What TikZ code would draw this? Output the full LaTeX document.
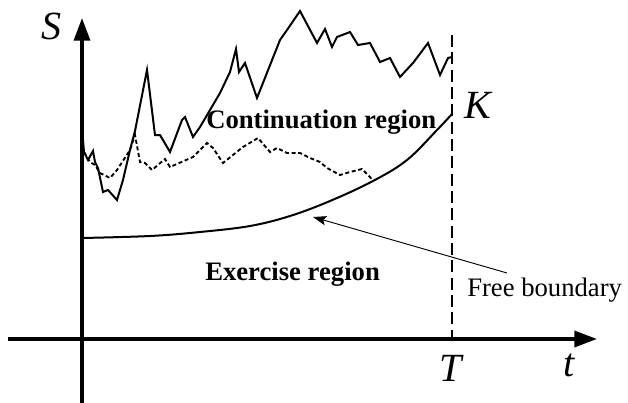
\documentclass[tikz,border=0pt]{standalone}
\usepackage{fontspec}
\setmainfont{Liberation Serif}
\usetikzlibrary{arrows.meta}

\begin{document}
\begin{tikzpicture}[x=0.75pt,y=-0.75pt,
    axis/.style={line width=2.6pt, -{Triangle[length=17pt,width=12pt]}},
    walk/.style={line width=1.5pt, line join=miter},
    shadow/.style={line width=1.4pt, dash pattern=on 3pt off 2pt},
    bound/.style={line width=1.5pt},
    region/.style={font=\fontsize{20}{24}\selectfont\bfseries, inner sep=0pt, anchor=base west},
    var/.style={font=\fontsize{30}{34}\selectfont\itshape, inner sep=0pt, anchor=base}]
  \useasboundingbox (0,0) rectangle (628,403);

  % axes
  \coordinate (ybot) at (82,403);
  \coordinate (ytop) at (82,18);
  \coordinate (xleft) at (8,339);
  \coordinate (xright) at (597,339);
  \draw[axis] (ybot) -- (ytop);
  \draw[axis] (xleft) -- (xright);
  \node[var] (lblS) at (51,40) {S};
  \node[var] (lblt) at (569,376) {t};
  \node[var] (lblT) at (451,381) {T};

  % maturity
  \coordinate (mattop) at (452,35);
  \coordinate (matbot) at (452,339);
  \draw[line width=1.1pt, dash pattern=on 9pt off 4pt] (mattop) -- (matbot);
  \node[var] (lblK) at (478,118) {K};

  % free boundary
  \draw[bound] plot[smooth, tension=0.6] coordinates {(82,238) (150,236) (200,232)
    (250,226) (290,216) (330,201) (373,181) (407,160) (437,130) (452,114)};

  % sample paths
  \draw[walk] plot coordinates {(83,140) (84,152) (88,160) (93,151) (95,162) (98,168)
    (103,192) (108,190) (117,200) (123,180) (130,150) (135,131) (147,70) (155,135)
    (160,135) (170,152) (182,120) (185,117) (193,137) (200,127) (220,93) (230,72)
    (236,49) (239,72) (245,63) (257,98) (280,40) (287,30) (300,11) (317,43) (325,29)
    (332,47) (337,37) (350,32) (358,45) (370,43) (380,62) (390,58) (400,77) (413,63)
    (428,43) (440,75) (448,58) (452,57)};
  \draw[shadow] plot coordinates {(84,152) (90,162) (95,165) (100,173) (110,178)
    (117,170) (130,150) (135,135) (140,162) (145,163) (152,170) (165,159) (170,167)
    (193,157) (207,143) (213,148) (223,163) (233,155) (243,147) (258,138) (270,152)
    (277,148) (287,153) (300,153) (310,158) (320,162) (327,168) (340,175) (350,172)
    (362,169) (370,177) (373,181)};

  % labels
  \node[region] (cont) at (206,128) {Continuation region};
  \node[region] (exer) at (205,280) {Exercise region};
  \node[font=\rmfamily\fontsize{20}{24}\selectfont, inner sep=0pt, anchor=base west] (fb) at (467,296) {Free boundary};
  \coordinate (fbfrom) at (507,273);
  \coordinate (fbto) at (313,217);
  \draw[line width=0.7pt, -{Stealth[length=10pt,width=7pt,inset=2pt]}] (fbfrom) -- (fbto);
\end{tikzpicture}
\end{document}
